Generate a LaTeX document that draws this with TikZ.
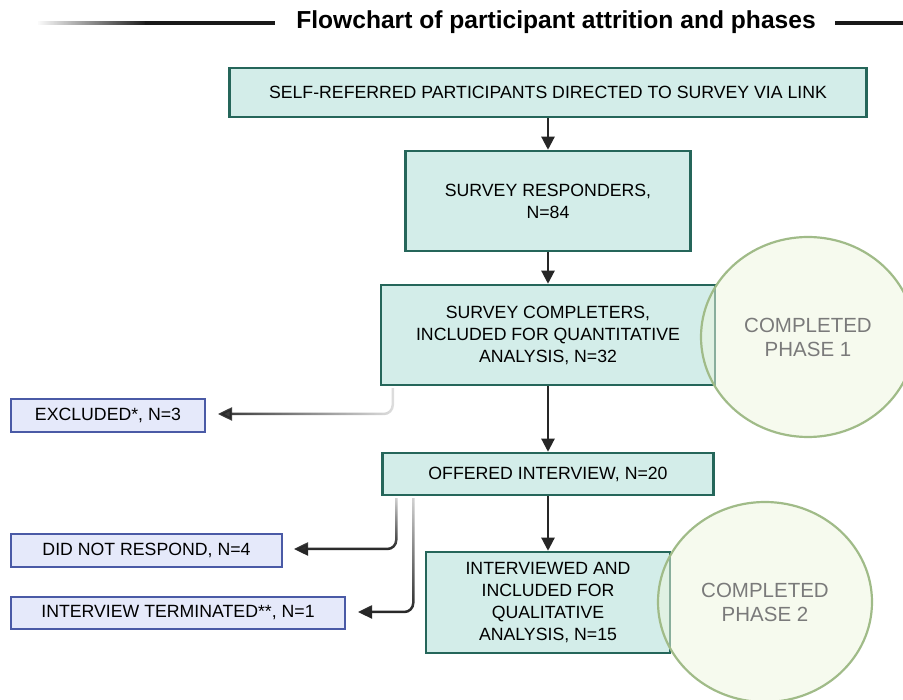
\documentclass[tikz,border=0pt]{standalone}
\usepackage{fontspec}
\setmainfont{Liberation Sans}
\usetikzlibrary{shapes.geometric,arrows.meta,calc,fadings}
\definecolor{tealfill}{HTML}{D3EDE9}
\definecolor{tealdraw}{HTML}{25665A}
\definecolor{bluefill}{HTML}{E5E9FA}
\definecolor{bluedraw}{HTML}{4A5AA6}
\definecolor{phasefill}{HTML}{EEF6DE}
\definecolor{phasedraw}{HTML}{A0BB88}
\definecolor{phasetext}{HTML}{7A7A7A}
\tikzfading[name=titlefade, left color=transparent!100, right color=transparent!0]
\tikzfading[name=hfade, left color=transparent!0, middle color=transparent!0, right color=transparent!85]
\tikzfading[name=vfade, top color=transparent!80, bottom color=transparent!0]
\tikzfading[name=vfadeb, top color=transparent!80, middle color=transparent!0, bottom color=transparent!0]
\tikzset{
  tealbox/.style={draw=tealdraw, fill=tealfill, line width=2.5pt, inner sep=0pt, align=center,
    font=\fontsize{17.7}{22}\selectfont},
  bluebox/.style={draw=bluedraw, fill=bluefill, line width=2pt, inner sep=0pt, align=center,
    font=\fontsize{17.7}{22}\selectfont},
  phase/.style={ellipse, draw=phasedraw, fill=phasefill, fill opacity=0.5, draw opacity=1,
    text opacity=1, line width=2.2pt, inner sep=0pt, text=phasetext, align=center,
    font=\fontsize{20.5}{24}\selectfont},
  flow/.style={line width=2.2pt, draw=black!85, -{Triangle[length=13pt,width=13pt]}},
  side/.style={line width=2.5pt, draw=black!85, rounded corners=9pt, -{Triangle[length=14pt,width=13pt]}}
}
\begin{document}
\begin{tikzpicture}[x=1pt,y=-1pt]
\useasboundingbox (0,0) rectangle (903,700);
% title
\node[font=\fontsize{24.6}{30}\selectfont\bfseries, inner sep=0pt] (title) at (556,22) {Flowchart of participant attrition and phases};
\coordinate (tl0) at (38,23);
\coordinate (tlm) at (145,23);
\coordinate (tl1) at (275,23);
\coordinate (tr0) at (835,23);
\coordinate (tr1) at (903,23);
\draw[line width=4pt, black!90, path fading=titlefade] (tl0) -- (tlm);
\draw[line width=4pt, black!90] (tlm) -- (tl1);
\draw[line width=4pt, black!90] (tr0) -- (tr1);
% main boxes
\node[tealbox, minimum width=637pt, minimum height=49pt] (b1) at (548,92.5) {SELF-REFERRED PARTICIPANTS DIRECTED TO SURVEY VIA LINK};
\node[tealbox, minimum width=285pt, minimum height=100pt] (b2) at (548,201) {SURVEY RESPONDERS,\\N=84};
\node[tealbox, minimum width=334pt, minimum height=100pt] (b3) at (548,335) {SURVEY COMPLETERS,\\INCLUDED FOR QUANTITATIVE\\ANALYSIS, N=32};
\node[tealbox, minimum width=331pt, minimum height=42pt] (b4) at (548,474) {OFFERED INTERVIEW, N=20};
\node[tealbox, minimum width=244pt, minimum height=101pt] (b5) at (548,602.5) {INTERVIEWED AND\\INCLUDED FOR\\QUALITATIVE\\ANALYSIS, N=15};
% side boxes
\node[bluebox, minimum width=194pt, minimum height=33pt] (ex) at (108,415.5) {EXCLUDED*, N=3};
\node[bluebox, minimum width=271pt, minimum height=33pt] (dnr) at (146.5,550.5) {DID NOT RESPOND, N=4};
\node[bluebox, minimum width=334pt, minimum height=32pt] (term) at (178,613) {INTERVIEW TERMINATED**, N=1};
% phase ellipses
\node[phase, minimum width=214pt, minimum height=200pt] (p1) at (808,337) {COMPLETED\\PHASE 1};
\node[phase, minimum width=214pt, minimum height=200pt] (p2) at (765,602) {COMPLETED\\PHASE 2};
% main arrows
\draw[flow] (b1.south) -- (b2.north);
\draw[flow] (b2.south) -- (b3.north);
\draw[flow] (b3.south) -- (b4.north);
\draw[flow] (b4.south) -- (b5.north);
% side arrows
\draw[side, path fading=hfade, shorten >=12pt] ($(b3.south west)+(13,2)$) |- ($(ex.east)+(0,-1.5)$);
\draw[side, path fading=vfade, shorten >=11pt] ($(b4.south west)+(15,2)$) |- ($(dnr.east)+(0,-1.5)$);
\draw[side, path fading=vfadeb, shorten >=12pt] ($(b4.south west)+(32,2)$) |- ($(term.east)+(0,-1)$);
\end{tikzpicture}
\end{document}
